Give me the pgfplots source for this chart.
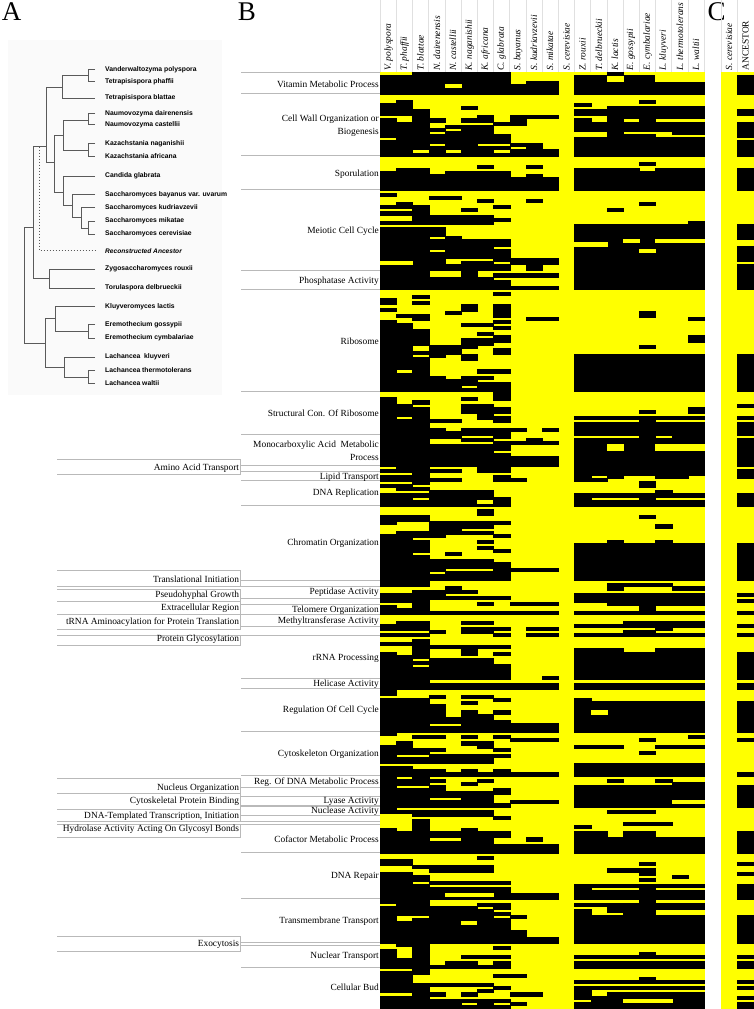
\documentclass[border=0pt]{standalone}
\usepackage{pgfplots}
\pgfplotsset{compat=1.18}
\usepackage{fontspec}
\setmainfont{Liberation Serif}
\newfontfamily\treefont{Liberation Sans}
\definecolor{hy}{RGB}{255,255,0}
\definecolor{ln}{RGB}{185,185,185}
\definecolor{tr}{RGB}{90,90,90}
\newcommand{\B}[4]{\addplot[fill=black,draw=black,line width=0.1pt] coordinates {(#1,#3)(#2,#3)(#2,#4)(#1,#4)} --cycle;}
\newcommand{\Y}[4]{\addplot[fill=hy,draw=hy,line width=0.1pt] coordinates {(#1,#3)(#2,#3)(#2,#4)(#1,#4)} --cycle;}
\newcommand{\A}[2]{\addplot[fill=black,draw=black,line width=0.1pt] coordinates {(22.03,#1)(23.09,#1)(23.09,#2)(22.03,#2)} --cycle;}
\newcommand{\RL}[2]{\node[anchor=east,inner sep=0pt,font=\fontsize{9.4}{11}\selectfont] at (379,#1) {#2};}
\newcommand{\LL}[2]{\node[anchor=east,inner sep=0pt,font=\fontsize{9.4}{11}\selectfont] at (239.3,#1) {#2};}
\newcommand{\HR}[1]{\draw[ln,line width=0.9pt] (241,#1)--(380,#1);}
\newcommand{\LB}[2]{\draw[ln,line width=0.9pt] (57,#1)--(240.5,#1)--(240.5,#2)--(57,#2);}
\newcommand{\TL}[2]{\node[anchor=west,inner sep=0pt,font=\treefont\bfseries\fontsize{6.8}{7}\selectfont] at (105,#1) {#2};}
\newcommand{\CL}[2]{\node[rotate=90,anchor=west,inner sep=0pt,font=\itshape\fontsize{9.4}{11}\selectfont] at (#1,70.5) {#2};}
\begin{document}
\begin{tikzpicture}[x=1pt,y=1pt]
\path[use as bounding box] (0,0) rectangle (754pt,1009pt);
\begin{axis}[at={(380pt,1pt)},anchor=south west,scale only axis,width=374pt,height=936pt,
 xmin=0,xmax=23.086,ymin=0,ymax=302,y dir=reverse,hide axis,clip=true]
\Y{0}{20}{0}{302}
\Y{21.03}{23.09}{0}{302}
% Vitamin
\B{0}{2}{1}{7}\B{2}{8}{0}{7}\Y{4}{5}{4}{5}\B{8}{9}{4}{7}\B{9}{11}{3}{7}\B{12}{20}{1}{7}\Y{14}{15}{1}{3}\B{14}{15}{0}{1}\Y{17}{20}{1}{3}\A{1}{7}
% Cell wall
\B{1}{2}{9}{14}\B{0}{1}{10}{14}\B{2}{3}{12}{25}\B{2}{3}{26}{27}\B{0}{1}{15}{21}\B{0}{1}{22}{27}\B{1}{2}{16}{27}
\B{3}{4}{15}{16}\B{3}{4}{18}{19}\B{3}{4}{20}{23}\B{3}{4}{24}{27}
\B{4}{5}{17}{18}\B{4}{5}{19}{25}\B{4}{5}{26}{27}
\B{5}{6}{11}{12}\B{5}{6}{15}{16}\B{5}{6}{17}{27}
\B{6}{7}{14}{16}\B{6}{7}{17}{23}\B{6}{7}{24}{27}
\B{7}{8}{16}{17}\B{7}{8}{20}{23}\B{7}{8}{24}{25}\B{7}{8}{26}{27}
\B{8}{9}{14}{17}\B{8}{9}{23}{24}\B{8}{9}{25}{27}
\B{9}{10}{14}{15}\B{9}{10}{23}{27}\B{10}{11}{14}{15}\B{10}{11}{25}{27}
\B{16}{17}{9}{10}\B{12}{13}{10}{11}\B{14}{20}{11}{15}\B{12}{14}{12}{14}
\B{12}{13}{15}{19}\B{13}{14}{16}{19}\B{14}{15}{15}{27}\B{15}{16}{16}{19}\B{16}{17}{15}{19}\B{17}{18}{16}{19}\B{18}{20}{16}{20}\B{15}{17}{20}{21}\B{12}{20}{21}{27}
\A{12}{14}\A{16}{21}\A{22}{27}
% Sporulation
\B{0}{1}{32}{38}\B{1}{3}{31}{38}\B{3}{4}{33}{38}\B{4}{8}{32}{38}\B{8}{9}{34}{38}\B{9}{10}{33}{38}\B{10}{11}{34}{38}\B{6}{7}{30}{31}\B{9}{10}{30}{31}
\B{12}{16}{31}{38}\B{17}{20}{31}{38}\B{16}{17}{32}{38}\B{16}{17}{29}{30}\A{31}{38}
% Meiotic
\B{0}{1}{39}{40}\B{3}{5}{40}{41}\B{6}{7}{41}{42}\B{9}{10}{41}{42}\B{1}{2}{42}{43}\B{0}{3}{43}{44}\B{2}{3}{44}{46}\B{0}{2}{45}{46}\B{2}{7}{46}{49}\B{0}{2}{48}{49}\B{5}{6}{44}{45}\B{7}{8}{43}{44}\B{7}{8}{47}{48}\B{14}{15}{44}{45}\B{16}{17}{42}{43}
\B{0}{3}{50}{70}\Y{0}{2}{61}{62}
\B{3}{4}{50}{53}\B{3}{4}{54}{57}\B{3}{4}{58}{64}\B{3}{4}{66}{70}
\B{4}{5}{53}{60}\B{4}{5}{62}{64}\B{4}{5}{66}{70}
\B{5}{6}{54}{60}\B{5}{6}{61}{70}
\B{6}{7}{54}{60}\B{6}{7}{61}{64}\B{6}{7}{66}{70}
\B{7}{8}{54}{56}\B{7}{8}{57}{61}\B{7}{8}{62}{64}\B{7}{8}{65}{66}\B{7}{8}{67}{70}
\B{8}{9}{60}{62}\B{8}{11}{65}{66}\B{8}{11}{69}{70}\B{9}{10}{60}{64}\B{10}{11}{60}{62}
\B{12}{19}{49}{70}\B{19}{20}{48}{70}\Y{12}{14}{55}{56}\Y{15}{16}{54}{55}\Y{17}{20}{54}{55}\Y{16}{17}{57}{58}
\A{49}{54}\A{56}{61}\A{62}{70}
% Ribosome
\B{7}{8}{71}{72}\B{2}{3}{72}{73}\B{2}{3}{74}{75}\B{0}{1}{73}{75}\B{0}{1}{76}{77}\B{5}{6}{75}{77}\B{4}{5}{77}{78}\B{7}{8}{75}{79}\B{16}{17}{77}{79}\B{1}{2}{78}{79}\B{2}{3}{78}{80}\B{9}{11}{79}{80}\B{19}{20}{79}{80}\B{7}{8}{80}{81}\B{7}{8}{82}{83}\B{5}{7}{81}{82}\B{6}{7}{84}{85}\B{7}{8}{85}{87}\B{5}{7}{86}{88}\B{19}{20}{85}{87}\B{16}{17}{88}{89}\B{7}{8}{89}{91}
\B{0}{1}{80}{103}\B{1}{2}{81}{96}\B{1}{2}{97}{103}\B{2}{3}{83}{88}\B{2}{3}{90}{91}\B{2}{3}{92}{103}
\B{3}{4}{88}{92}\B{3}{4}{98}{103}\B{4}{5}{88}{91}\B{4}{5}{99}{103}
\B{5}{6}{88}{89}\B{5}{6}{91}{93}\B{5}{6}{98}{101}\B{5}{6}{102}{103}
\B{6}{7}{96}{97}\B{6}{7}{98}{99}\B{6}{7}{100}{103}\B{7}{8}{96}{97}\B{7}{8}{100}{106}
\B{12}{20}{91}{103}\A{91}{103}
% Structural
\B{0}{1}{105}{127}\B{1}{2}{107}{111}\B{1}{2}{112}{128}\B{2}{3}{106}{107}\B{2}{3}{108}{133}
\B{3}{5}{112}{113}\B{3}{4}{115}{118}\B{4}{5}{116}{118}
\B{5}{6}{105}{106}\B{5}{6}{107}{110}\B{5}{6}{115}{117}\B{5}{6}{118}{119}
\B{6}{7}{107}{112}\B{6}{7}{115}{117}\B{6}{7}{118}{119}
\B{7}{8}{108}{110}\B{7}{8}{111}{113}\B{7}{8}{115}{118}\B{7}{8}{119}{122}\B{7}{8}{123}{129}
\B{8}{9}{115}{116}\B{8}{9}{119}{120}\B{9}{10}{118}{120}\B{10}{11}{115}{116}\B{10}{11}{119}{120}
\B{19}{20}{108}{110}\B{16}{17}{109}{110}\B{12}{20}{111}{112}\B{16}{17}{112}{113}\B{12}{20}{113}{117}\B{16}{17}{117}{118}\B{18}{20}{117}{118}\B{12}{20}{118}{130}\Y{14}{15}{120}{122}\Y{17}{20}{120}{122}
\A{107}{108}\A{111}{112}\A{113}{117}\A{118}{127}\A{128}{131}
\B{3}{7}{120}{127}\B{8}{11}{124}{127}
\B{12}{13}{130}{132}\B{13}{14}{131}{132}\B{14}{15}{130}{131}\B{17}{19}{130}{131}
% lipid etc
\B{0}{2}{128}{129}\B{0}{2}{130}{132}\B{0}{2}{133}{134}\B{1}{2}{134}{135}\B{2}{3}{134}{135}\B{0}{3}{136}{137}\B{0}{3}{138}{140}\B{0}{2}{137}{138}
\B{3}{5}{128}{129}\B{3}{5}{131}{132}\B{3}{7}{135}{140}\Y{6}{7}{138}{139}
\B{6}{8}{127}{129}\B{7}{8}{130}{132}\B{8}{9}{131}{132}\B{7}{8}{137}{140}
\B{16}{17}{132}{134}\B{12}{13}{136}{140}\B{13}{16}{136}{137}\B{13}{16}{138}{140}\B{16}{17}{136}{140}\B{17}{18}{135}{137}\B{17}{20}{138}{140}\B{18}{20}{136}{137}\A{136}{140}
% Chromatin
\B{6}{7}{141}{143}\B{0}{1}{143}{146}\B{1}{3}{143}{145}\B{3}{4}{145}{150}\B{4}{5}{145}{149}\B{5}{7}{145}{147}\B{5}{7}{148}{149}\B{7}{8}{145}{146}\B{7}{8}{149}{150}
\B{0}{1}{149}{166}\B{1}{2}{148}{166}\B{2}{3}{148}{150}\B{2}{3}{151}{155}\B{2}{3}{156}{166}
\B{4}{5}{155}{156}\B{6}{7}{151}{152}\B{6}{7}{153}{154}\B{7}{8}{154}{155}
\B{3}{4}{157}{161}\B{3}{4}{162}{164}\B{4}{7}{157}{160}\B{4}{7}{161}{164}\B{7}{8}{158}{164}\B{8}{11}{160}{161}
\B{16}{17}{143}{144}\B{17}{18}{146}{147}\B{12}{20}{152}{164}\B{14}{15}{151}{152}\B{17}{18}{151}{152}\A{152}{164}
% Peptidase
\B{14}{15}{165}{167}\B{15}{18}{165}{166}\B{18}{20}{166}{167}
\B{2}{3}{167}{175}\B{0}{2}{168}{171}\B{0}{1}{172}{175}\B{1}{2}{173}{175}\B{3}{4}{167}{170}\B{4}{5}{166}{168}\B{5}{6}{167}{168}\B{4}{8}{169}{170}\B{6}{7}{171}{172}\B{8}{11}{171}{172}\B{0}{11}{174}{175}
\B{12}{20}{168}{171}\B{14}{20}{171}{172}\B{16}{17}{172}{174}\B{12}{20}{174}{175}\A{168}{169}\A{170}{171}\A{174}{175}
% Methyltransferase
\B{5}{7}{177}{178}\B{1}{3}{177}{180}\B{0}{1}{178}{180}\B{5}{7}{179}{181}\B{7}{8}{179}{180}\B{9}{11}{179}{180}\B{3}{4}{180}{181}\B{0}{3}{181}{182}\B{7}{8}{181}{182}\B{9}{11}{181}{182}
\B{12}{15}{178}{179}\B{15}{20}{177}{179}\B{17}{18}{179}{180}\B{15}{17}{180}{181}\B{12}{20}{181}{182}\A{178}{179}\A{181}{182}
% rRNA
\B{0}{2}{184}{185}\B{2}{3}{183}{189}\B{3}{8}{185}{186}\B{5}{6}{185}{188}\B{7}{8}{187}{188}
\B{0}{1}{187}{201}\B{1}{2}{188}{199}\B{2}{3}{190}{191}\B{2}{3}{192}{199}\B{3}{7}{189}{196}\B{7}{8}{191}{196}\B{10}{11}{195}{196}\B{3}{11}{197}{199}
\B{12}{15}{186}{196}\B{15}{17}{187}{196}\B{17}{20}{186}{196}\B{12}{20}{197}{199}\A{187}{196}\A{197}{199}
% Regulation
\B{0}{1}{202}{214}\B{1}{3}{202}{213}\B{3}{4}{201}{202}\B{3}{4}{204}{210}\B{3}{4}{211}{213}\B{4}{5}{208}{210}\B{4}{5}{211}{213}\B{5}{6}{201}{202}\B{5}{6}{203}{204}\B{5}{6}{206}{213}\B{6}{7}{201}{202}\B{6}{7}{207}{213}\B{7}{8}{202}{203}\B{7}{8}{206}{207}\B{7}{8}{209}{213}\B{8}{11}{210}{213}
\B{12}{13}{202}{213}\B{13}{20}{203}{213}\Y{13}{14}{206}{207}\A{203}{213}
% Cytoskeleton
\B{2}{4}{214}{215}\B{5}{6}{214}{215}\B{7}{8}{214}{215}\B{8}{11}{215}{216}\B{16}{17}{215}{216}\A{215}{216}\B{19}{20}{214}{215}\B{5}{7}{216}{217}\B{6}{7}{217}{218}
\B{12}{15}{217}{218}\B{17}{20}{217}{218}
\B{0}{1}{217}{223}\B{0}{1}{224}{239}\B{1}{2}{216}{220}\B{1}{2}{221}{223}\B{1}{2}{224}{227}\B{2}{3}{218}{220}\B{2}{3}{221}{223}\B{3}{4}{218}{219}\B{3}{7}{220}{223}\B{7}{8}{218}{219}\B{7}{8}{220}{221}\B{16}{17}{219}{220}
\B{2}{4}{225}{227}\B{4}{5}{226}{227}\B{5}{6}{225}{227}\B{6}{7}{226}{227}\B{7}{8}{225}{227}\B{8}{11}{226}{227}\B{12}{20}{223}{227}\A{226}{227}
% Reg DNA
\B{1}{2}{228}{230}\B{2}{3}{227}{230}\B{1}{3}{231}{237}\B{3}{4}{228}{229}\B{5}{6}{229}{230}\B{6}{7}{228}{229}\B{3}{4}{230}{234}\B{3}{4}{235}{237}\B{4}{5}{232}{234}\B{4}{5}{235}{237}\B{5}{7}{232}{237}\B{7}{8}{231}{233}\B{7}{8}{236}{237}\B{8}{11}{235}{236}
\B{14}{15}{228}{229}\B{17}{18}{228}{229}\B{18}{20}{229}{237}\B{12}{18}{230}{237}\Y{18}{20}{235}{236}\A{230}{237}
% Lyase
\B{1}{2}{238}{239}\B{2}{7}{238}{240}\B{7}{8}{240}{241}\B{14}{17}{238}{239}\B{15}{18}{242}{243}\B{12}{13}{243}{244}
% Cofactor
\B{0}{1}{244}{252}\B{1}{2}{245}{252}\B{2}{3}{241}{252}\B{3}{5}{245}{247}\B{3}{5}{248}{252}\B{5}{6}{244}{252}\B{6}{7}{245}{252}\B{7}{8}{245}{247}\B{7}{8}{249}{252}\B{9}{10}{247}{248}\B{8}{11}{249}{252}
\B{12}{14}{245}{252}\B{14}{15}{247}{252}\B{15}{17}{245}{252}\B{17}{20}{247}{252}\A{245}{252}
% DNA repair
\B{6}{7}{253}{254}\B{0}{2}{254}{256}\B{2}{3}{256}{257}\B{3}{7}{256}{258}
\B{2}{3}{259}{261}\B{3}{8}{261}{262}\B{3}{8}{263}{267}\Y{4}{7}{265}{266}\B{8}{11}{265}{267}
\B{16}{17}{255}{256}\B{14}{16}{257}{258}\B{16}{17}{257}{259}\B{16}{17}{260}{261}\B{18}{19}{259}{260}
\B{12}{20}{262}{263}\B{12}{13}{263}{267}\B{16}{17}{263}{267}\B{13}{16}{264}{267}\B{17}{20}{264}{267}
\B{16}{17}{267}{268}\B{12}{20}{268}{269}\B{14}{20}{269}{270}\B{12}{13}{270}{272}\B{14}{17}{270}{271}\B{15}{17}{271}{272}\B{12}{20}{272}{281}
\A{255}{256}\A{258}{259}\A{262}{267}\A{272}{281}
% Transmembrane
\B{0}{1}{258}{268}\B{0}{1}{269}{281}\B{1}{2}{258}{272}\B{1}{2}{274}{282}\B{2}{3}{262}{272}\B{2}{3}{273}{291}
\B{3}{6}{269}{281}\Y{5}{6}{274}{275}\B{6}{7}{268}{269}\B{6}{7}{270}{281}\B{7}{8}{268}{270}\B{7}{8}{271}{272}\B{7}{8}{273}{281}\B{8}{9}{272}{273}\B{8}{9}{277}{281}\B{9}{11}{279}{281}
% Nuclear
\B{7}{8}{282}{283}\B{0}{1}{283}{289}\B{1}{2}{286}{289}\B{5}{8}{285}{286}\B{3}{4}{288}{289}\B{4}{6}{287}{289}\B{6}{7}{288}{289}\B{7}{8}{287}{289}
\B{12}{20}{285}{286}\B{16}{17}{284}{286}\B{12}{20}{287}{289}\A{285}{286}\A{287}{289}
% Bud
\B{0}{3}{290}{291}\B{0}{2}{291}{297}\B{2}{3}{294}{302}\B{7}{9}{291}{292}\B{16}{17}{292}{294}\B{12}{20}{293}{294}\A{293}{294}\B{3}{7}{294}{295}\B{7}{8}{295}{296}\B{12}{20}{295}{296}\A{295}{296}\B{12}{13}{296}{299}\B{6}{7}{296}{297}\B{3}{4}{297}{298}\B{5}{6}{297}{298}\B{8}{10}{297}{298}
\B{0}{2}{298}{302}\B{3}{5}{299}{302}\B{5}{6}{299}{300}\B{5}{6}{301}{302}\B{6}{7}{299}{302}\B{7}{8}{299}{300}\B{7}{8}{301}{302}\B{8}{9}{300}{301}
\B{12}{13}{300}{302}\B{13}{14}{298}{302}\B{14}{20}{297}{302}\Y{15}{18}{299}{300}
\A{298}{299}\A{300}{302}
\end{axis}
\begin{axis}[at={(0pt,0pt)},anchor=south west,scale only axis,width=754pt,height=1009pt,
 xmin=0,xmax=754,ymin=0,ymax=1009,y dir=reverse,hide axis,clip=false]
% tree background
\fill[black!2] (8,40) rectangle (222,395);
% panel letters
\node[font=\fontsize{27}{28}\selectfont,inner sep=0pt,anchor=base] at (11.5,20.5) {A};
\node[font=\fontsize{27}{28}\selectfont,inner sep=0pt,anchor=base] at (247,20.5) {B};
\node[font=\fontsize{27}{28}\selectfont,inner sep=0pt,anchor=base] at (716.5,20.5) {C};
% column grid
\foreach \k in {0,...,20}{\pgfmathsetmacro{\xx}{380+16.2*\k}\edef\tmp{\noexpand\draw[black!12,line width=0.4pt] (\xx,0)--(\xx,72);}\tmp}
\draw[black!12,line width=0.4pt] (720.7,0)--(720.7,72) (736.9,0)--(736.9,72);
% column labels
\CL{388.5}{V. polyspora}\CL{404.5}{T. phaffii}\CL{420.5}{T. blattae}\CL{437}{N. dairenensis}\CL{453}{N. castellii}\CL{469.5}{K. naganishii}\CL{485.5}{K. africana}\CL{501.5}{C. glabrata}\CL{518}{S. bayanus}\CL{534}{S. kudriavzevii}\CL{550}{S. mikatae}\CL{566.5}{S. cerevisiae}\CL{582.5}{Z. rouxii}\CL{599}{T. delbrueckii}\CL{615}{K. lactis}\CL{631}{E. gossypii}\CL{647.5}{E. cymbalariae}\CL{663.5}{L. kluyveri}\CL{680}{L. thermotolerans}\CL{696}{L. waltii}
\CL{729}{S. cerevisiae}
\node[rotate=90,anchor=west,inner sep=0pt,font=\fontsize{9.4}{11}\selectfont] at (745.5,70.5) {ANCESTOR};
% right guide lines
\foreach \yy in {72,93.7,155.7,189.7,270.3,289,391,434,465.7,471.3,480.7,505.3,580,586,598.3,604.3,614,626,635.3,678.7,688.3,731.7,775,787.3,796.7,805.3,806.7,815.3,821.3,824.7,852.3,898.7,942,945.3,967}{\edef\tmp{\noexpand\HR{\yy}}\tmp}
% left brackets
\LB{459.3}{474.7}\LB{570.7}{586}\LB{589.3}{601.3}\LB{601.7}{614}\LB{614.3}{629.3}\LB{635.3}{645}\LB{778.3}{793.3}\LB{793.7}{809}\LB{809.3}{821.3}\LB{824.7}{837.3}\LB{936}{951}
% right labels
\RL{84}{Vitamin Metabolic Process}\RL{119}{Cell Wall Organization or}\RL{132}{Biogenesis}\RL{174}{Sporulation}\RL{231}{Meiotic Cell Cycle}\RL{281}{Phosphatase Activity}\RL{341}{Ribosome}\RL{413}{Structural Con. Of Ribosome}\RL{445}{Monocarboxylic Acid~~Metabolic}\RL{457}{Process}\RL{477}{Lipid Transport}\RL{493.7}{DNA Replication}\RL{543}{Chromatin Organization}\RL{592.7}{Peptidase Activity}\RL{610}{Telomere Organization}\RL{620.7}{Methyltransferase Activity}\RL{658}{rRNA Processing}\RL{684}{Helicase Activity}\RL{710}{Regulation Of Cell Cycle}\RL{754}{Cytoskeleton Organization}\RL{781.7}{Reg. Of DNA Metabolic Process}\RL{801.7}{Lyase Activity}\RL{811.3}{Nuclease Activity}\RL{839.3}{Cofactor Metabolic Process}\RL{876}{DNA Repair}\RL{921}{Transmembrane Transport}\RL{956.7}{Nuclear Transport}\RL{987.7}{Cellular Bud}
% left labels
\LL{468}{Amino Acid Transport}\LL{579}{Translational Initiation}\LL{595.7}{Pseudohyphal Growth}\LL{608}{Extracellular Region}\LL{622.3}{tRNA Aminoacylation for Protein Translation}\LL{639.7}{Protein Glycosylation}\LL{788.3}{Nucleus Organization}\LL{801.7}{Cytoskeletal Protein Binding}\LL{816}{DNA-Templated Transcription, Initiation}\LL{829.3}{Hydrolase Activity Acting On Glycosyl Bonds}\LL{944.7}{Exocytosis}
% tree
\draw[tr,line width=0.7pt] (95,69.7)-|(88.3,81.3)--(95,81.3) (88.3,75.5)--(62.3,75.5) (62.3,75.5)--(62.3,98)--(95,98) (62.3,87)--(46,87);
\draw[tr,line width=0.7pt] (95,113.7)-|(88.3,124.7)--(95,124.7) (88.3,120)--(63,120)--(63,150.3)--(88.3,150.3) (95,143)-|(88.3,156)--(95,156) (63,135)--(54,135);
\draw[tr,line width=0.7pt] (54,135)--(54,192)--(63,192) (54,162)--(46,162) (46,87)--(46,162) (95,176)--(63,176)--(63,205)--(72,205);
\draw[tr,line width=0.7pt] (95,194.3)--(72,194.3)--(72,217.3)--(81,217.3) (95,207.7)--(81,207.7)--(81,228)--(88.3,228) (95,221)-|(88.3,234.3)--(95,234.3);
\draw[tr,line width=0.7pt] (46,146.7)--(33,146.7)--(33,278.3)--(49.7,278.3) (95,269)--(49.7,269)--(49.7,288)--(95,288);
\draw[tr,line width=0.7pt,dash pattern=on 1.6pt off 1.4pt] (39.7,146.7)--(39.7,250.7)--(95,250.7);
\draw[tr,line width=0.7pt] (33,227.3)--(24,227.3)--(24,343.3)--(45,343.3) (45,318)--(45,367) (45,318)--(55.3,318) (95,306)--(55.3,306)--(55.3,331.7)--(88.3,331.7) (95,324.7)-|(88.3,338)--(95,338);
\draw[tr,line width=0.7pt] (45,367)--(64,367) (95,357)--(64,357)--(64,377)--(88.3,377) (95,370)-|(88.3,383)--(95,383);
\TL{69.7}{Vanderwaltozyma polyspora}\TL{81.3}{Tetrapisispora phaffii}\TL{98}{Tetrapisispora blattae}\TL{113.7}{Naumovozyma dairenensis}\TL{124.7}{Naumovozyma castellii}\TL{143.7}{Kazachstania naganishii}\TL{156}{Kazachstania africana}\TL{175.3}{Candida glabrata}\TL{195}{Saccharomyces bayanus var. uvarum}\TL{208}{Saccharomyces kudriavzevii}\TL{221}{Saccharomyces mikatae}\TL{233.7}{Saccharomyces cerevisiae}
\node[anchor=west,inner sep=0pt,font=\treefont\bfseries\itshape\fontsize{6.6}{7}\selectfont] at (105,250.7) {Reconstructed Ancestor};
\TL{268.7}{Zygosaccharomyces rouxii}\TL{287.3}{Torulaspora delbrueckii}\TL{306.3}{Kluyveromyces lactis}\TL{324.7}{Eremothecium gossypii}\TL{338}{Eremothecium cymbalariae}\TL{357}{Lachancea~~kluyveri}\TL{370}{Lachancea thermotolerans}\TL{383.3}{Lachancea waltii}
\end{axis}
\end{tikzpicture}
\end{document}
